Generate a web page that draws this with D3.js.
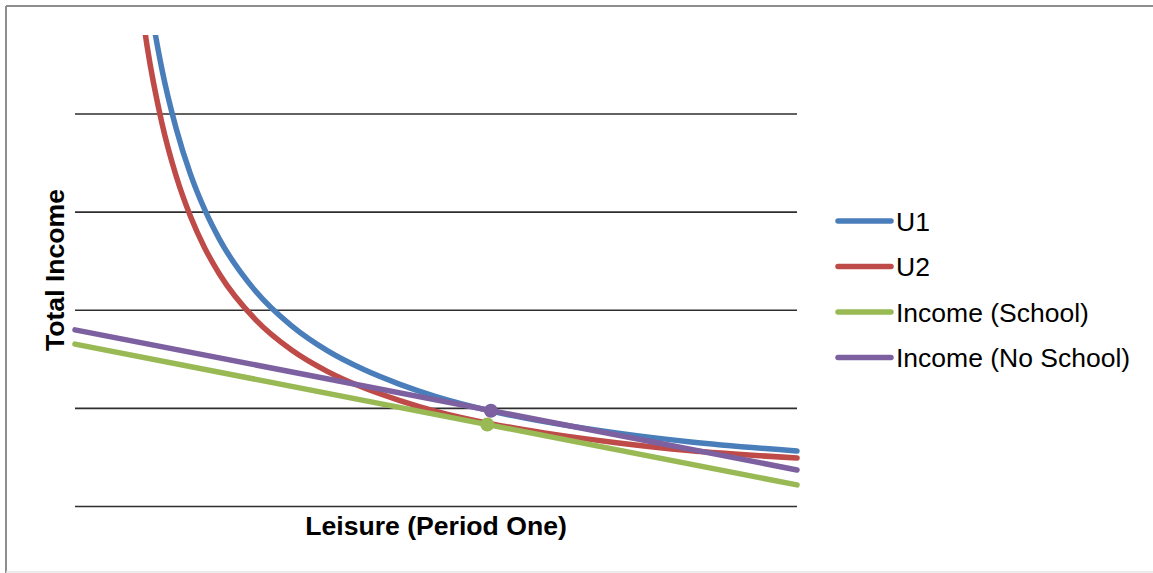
<!DOCTYPE html>
<html>
<head>
<meta charset="utf-8">
<script src="https://cdn.jsdelivr.net/npm/d3@7"></script>
<style>
  html, body { margin: 0; padding: 0; background: #fff; }
  svg { display: block; font-family: "Liberation Sans", Arial, sans-serif; }
</style>
</head>
<body>
<svg id="chart" width="1153" height="573"></svg>
<script>
// Leisure in period one (x) and total income (y) for two indifference curves
const leisure = [9, 10, 12, 14, 16, 18, 20, 25, 30, 35, 40, 45, 50, 57.5, 65, 75, 85, 100];
const u1 = [118, 106.5, 89.3, 77, 67.6, 60.3, 54.4, 43.8, 36.7, 31.6, 27.8, 24.8, 22.3, 19.4, 17.2, 14.9, 13.1, 11.2];
const u2 = [104, 93.6, 78.3, 67.3, 59, 52.5, 47.3, 38, 31.8, 27.4, 24.1, 21.5, 19.3, 16.8, 14.9, 12.9, 11.3, 9.8];

// Budget lines: income at zero and full leisure
const budgetLeisure = [0, 100];
const incomeSchool = [33.0, 4.3];
const incomeNoSchool = [35.9, 7.35];

// Optimal choices (tangency points)
const optimumSchool = { leisure: 57.1, income: 16.6 };
const optimumNoSchool = { leisure: 57.6, income: 19.4 };

const gridValues = [0, 20, 40, 60, 80];

const seriesNames = ["U1", "U2", "Income (School)", "Income (No School)"];
const seriesColors = ["#4a7ebb", "#be4b48", "#98b954", "#7d60a0"];

const svg = d3.select("#chart");
const plot = { left: 75, right: 797, top: 35, bottom: 506 };

const x = d3.scaleLinear().domain([0, 100]).range([plot.left, plot.right]);
const y = d3.scaleLinear().domain([0, 96]).range([plot.bottom, plot.top]);

// outer frame
svg.append("line").attr("x1", 6).attr("x2", 1153).attr("y1", 6).attr("y2", 6)
  .attr("stroke", "#8e8e8e").attr("stroke-width", 2);
svg.append("line").attr("x1", 6).attr("x2", 6).attr("y1", 6).attr("y2", 573)
  .attr("stroke", "#8e8e8e").attr("stroke-width", 2);
svg.append("line").attr("x1", 6).attr("x2", 1153).attr("y1", 572).attr("y2", 572)
  .attr("stroke", "#e6e6e6").attr("stroke-width", 1.5);

// horizontal gridlines via a left axis
const yAxis = d3.axisLeft(y).tickValues(gridValues)
  .tickSize(-(plot.right - plot.left)).tickFormat("");
const gAxis = svg.append("g").attr("transform", `translate(${plot.left},0)`).call(yAxis);
gAxis.select(".domain").remove();
gAxis.selectAll(".tick line").attr("stroke", "#2e2e2e").attr("stroke-width", 1.6);

svg.append("defs").append("clipPath").attr("id", "plotClip")
  .append("rect").attr("x", plot.left - 4).attr("y", plot.top)
  .attr("width", plot.right - plot.left + 8).attr("height", plot.bottom - plot.top + 40);

const g = svg.append("g").attr("clip-path", "url(#plotClip)");

const smooth = d3.line().x(d => x(d[0])).y(d => y(d[1])).curve(d3.curveMonotoneX);
const straight = d3.line().x(d => x(d[0])).y(d => y(d[1]));

const lines = [
  { data: d3.zip(leisure, u1), gen: smooth, color: seriesColors[0] },
  { data: d3.zip(leisure, u2), gen: smooth, color: seriesColors[1] },
  { data: d3.zip(budgetLeisure, incomeSchool), gen: straight, color: seriesColors[2] },
  { data: d3.zip(budgetLeisure, incomeNoSchool), gen: straight, color: seriesColors[3] }
];

lines.forEach(s => {
  g.append("path").attr("d", s.gen(s.data))
    .attr("fill", "none").attr("stroke", s.color)
    .attr("stroke-width", 5.5).attr("stroke-linecap", "round").attr("stroke-linejoin", "round");
});

// tangency markers
g.append("circle").attr("cx", x(optimumSchool.leisure)).attr("cy", y(optimumSchool.income))
  .attr("r", 7).attr("fill", seriesColors[2]);
g.append("circle").attr("cx", x(optimumNoSchool.leisure)).attr("cy", y(optimumNoSchool.income))
  .attr("r", 7).attr("fill", seriesColors[3]);

// axis titles
svg.append("text").attr("x", 436).attr("y", 535).attr("text-anchor", "middle")
  .attr("font-size", 26.6).attr("font-weight", "bold").attr("fill", "#000")
  .text("Leisure (Period One)");
svg.append("text").attr("transform", "translate(64,270) rotate(-90)").attr("text-anchor", "middle")
  .attr("font-size", 26.6).attr("font-weight", "bold").attr("fill", "#000")
  .text("Total Income");

// legend
const legend = svg.append("g");
seriesNames.forEach((name, i) => {
  const ly = 221 + i * 45.5;
  legend.append("line").attr("x1", 838).attr("x2", 891).attr("y1", ly).attr("y2", ly)
    .attr("stroke", seriesColors[i]).attr("stroke-width", 5.5).attr("stroke-linecap", "round");
  legend.append("text").attr("x", 896).attr("y", ly + 9.5)
    .attr("font-size", 26.5).attr("fill", "#000").text(name);
});
</script>
</body>
</html>
